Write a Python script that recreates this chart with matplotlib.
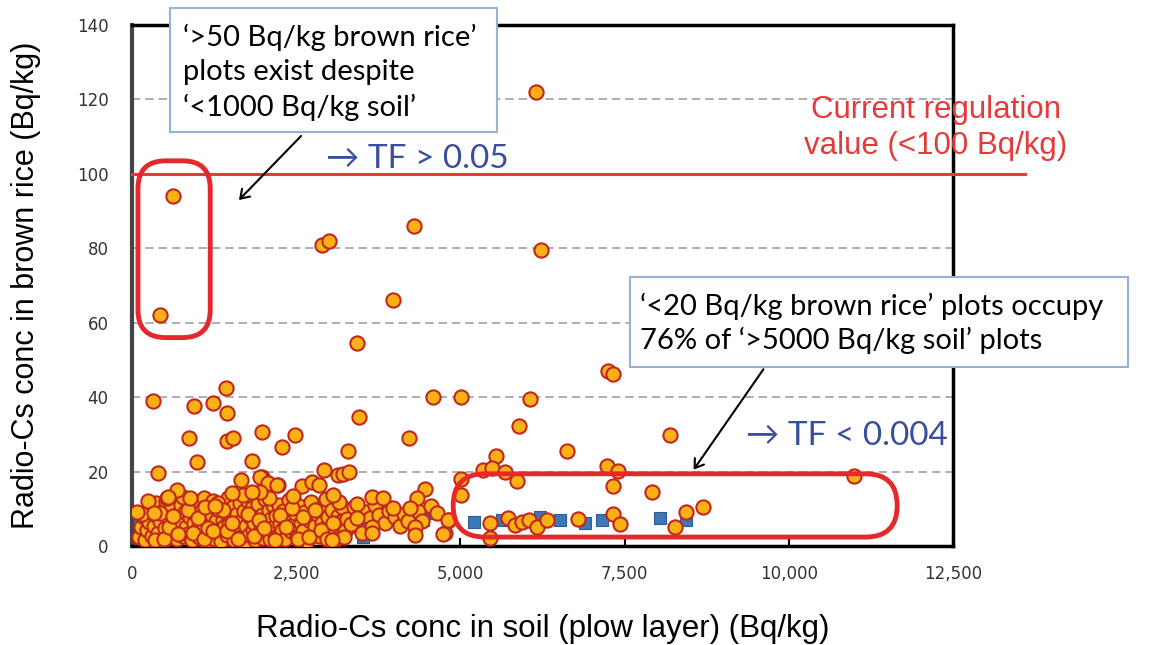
import numpy as np
import matplotlib
matplotlib.use('Agg')
import matplotlib.pyplot as plt
from matplotlib.patches import FancyBboxPatch, Rectangle, FancyArrowPatch

# scattered orange points (soil Bq/kg, brown rice Bq/kg)
orange_x = [6150, 620, 430, 2900, 3000, 4300, 6230, 3975, 3430, 3460, 4585, 5010, 6060, 5890,
            7250, 7330, 4220, 8190, 5545, 6625, 320, 945, 1235, 1430, 1445, 870, 1445, 1540,
            1980, 2480, 2285, 990, 1830, 395, 3290, 2925, 3140, 3215, 3300, 5345, 5480, 5680,
            5860, 5010, 5010, 7230, 7400, 7330, 7920, 8700, 8440, 8270, 4830, 4770, 5450, 5450,
            5730, 5830, 5940, 6050, 6170, 6320, 6790, 7330, 7430, 11000,
            1660, 1980, 2055, 2225, 2590, 2740, 2850, 3060, 2450, 1525, 533, 685, 883, 4460,
            4340, 3425, 3655, 3820, 3975, 4235, 3430, 3655, 4310, 3655, 4310, 4735, 4810, 3045,
            75, 1950, 2070, 2210, 548, 1950, 1830, 1110, 1265, 335]
orange_y = [122, 94, 62, 81, 82, 86, 79.6, 66, 54.6, 34.7, 40, 40, 39.6, 32.3,
            47, 46.3, 29, 29.8, 24.2, 25.5, 39, 37.6, 38.5, 42.5, 35.8, 29, 28.2, 29,
            30.6, 29.8, 26.6, 22.6, 22.8, 19.6, 25.5, 20.4, 19, 19.4, 19.9, 20.4, 21, 20,
            17.5, 18, 13.7, 21.5, 20.2, 16, 14.5, 10.5, 9.1, 5.1, 7, 3.5, 6.2, 2.2,
            7.5, 5.6, 6.5, 7, 5.1, 7, 7.2, 8.6, 5.9, 18.8,
            17.7, 18.5, 16.6, 16.4, 16.1, 17.2, 16.4, 13.7, 13.4, 14.2, 12.9, 15, 12.9, 15.3,
            12.9, 11.3, 13.2, 12.9, 10.2, 10.2, 7.5, 5.1, 5.1, 3.5, 3, 3.2, 7, 1.6,
            9.1, 18.5, 17, 16.4, 13.2, 14.5, 14.5, 10.5, 10.8, 8.9]

# dense cluster at low soil / low rice values
dense_x = [110, 140, 180, 200, 230, 260, 280, 300, 330, 360, 370, 400, 430, 450, 470, 500, 520, 540,
           570, 590, 610, 640, 660, 680, 700, 720, 740, 760, 780, 800,
           820, 840, 860, 880, 900, 920, 940, 960, 980, 1000, 1020, 1040, 1060, 1080, 1100, 1120,
           1140, 1160, 1180, 1200, 1220, 1240, 1260, 1280, 1300, 1320, 1340, 1360, 1380, 1400,
           1420, 1440, 1460, 1480, 1500,
           1520, 1540, 1560, 1580, 1600, 1620, 1640, 1660, 1680, 1700, 1720, 1740, 1760, 1780,
           1800, 1820, 1840, 1860, 1880, 1900, 1920, 1940, 1960, 1980, 2000, 2020, 2040, 2060,
           2080, 2100, 2120, 2140, 2160, 2180, 2200, 2220, 2240, 2260, 2280,
           2300, 2330, 2360, 2390, 2420, 2450, 2480, 2510, 2540, 2570, 2600, 2630, 2660, 2690,
           2720, 2750, 2780, 2810, 2840, 2870, 2900, 2930, 2960, 2990, 3020, 3050, 3080, 3110,
           3140, 3170, 3200, 3240, 3280,
           150, 250, 350, 420, 490, 560, 630, 700, 770, 850, 930, 1010, 1090, 1150, 1230, 1310,
           1390, 1450, 1530, 1610, 1690, 1770, 1850, 1930, 2010, 2090, 2170, 2250, 2340, 2430,
           2520, 2610, 2700, 2790, 2880, 2970, 3060, 3150, 3230,
           3330, 3380, 3500, 3560, 3620, 3700, 3760, 3850, 3920, 4000, 4080, 4140, 4200, 4360,
           4420, 4550, 4650]
dense_y = [2.5, 5, 7.8, 1.5, 4.2, 6.5, 10.8, 2.8, 5.5, 8.2, 11.5, 3.5, 6.8, 1.2, 9.5, 4.8, 12, 2.2,
           7.2, 10, 3.8, 5.9, 13.5, 1.8, 8.6, 4.4, 11, 6.3, 2.6, 9.2,
           5.2, 12.4, 3.1, 7.7, 10.2, 1.6, 6.1, 8.9, 4.0, 11.8, 2.4, 6.9, 9.7, 4.6, 13.0, 1.4,
           7.4, 10.6, 3.3, 5.7, 8.3, 12.2, 2.0, 6.6, 9.9, 4.2, 11.2, 1.3, 7.1, 5.0,
           9.1, 2.9, 12.8, 6.0, 8.0,
           3.6, 10.4, 1.7, 6.4, 8.7, 4.7, 11.6, 2.3, 7.0, 9.4, 0.9, 5.3, 12.0, 3.0,
           7.9, 10.1, 4.4, 6.2, 1.5, 9.0, 11.4, 3.4, 5.8, 8.4, 2.1, 12.6, 6.7, 4.0,
           9.6, 1.8, 7.3, 10.9, 3.7, 5.5, 8.1, 2.6, 11.0, 6.0, 4.3,
           9.3, 1.9, 7.6, 12.3, 3.9, 5.6, 8.8, 2.5, 10.7, 6.3, 4.1, 9.2, 1.4, 7.0,
           11.9, 3.2, 5.4, 8.5, 2.7, 10.3, 6.1, 4.5, 12.5, 7.8, 3.1, 9.8, 5.2, 1.9,
           8.0, 6.5, 10.6, 4.0, 7.2,
           8.6, 12.2, 1.6, 9.0, 2.0, 5.1, 8.0, 3.2, 13.2, 9.6, 3.6, 7.6, 1.9, 4.9, 3.9, 11.5,
           9.8, 4.0, 6.2, 1.9, 13.8, 8.6, 2.8, 6.9, 4.8, 13.0, 1.5, 8.2, 5.0, 10.1,
           1.8, 7.8, 2.4, 9.7, 4.2, 1.9, 6.3, 11.8, 2.3,
           6.0, 10.5, 3.6, 9.1, 7.6, 11.0, 8.4, 6.2, 9.3, 7.7, 5.4, 8.6, 6.8, 9.5,
           6.6, 10.8, 9.0]

# blue squares
blue_x = [40, 90, 20, 60, 150, 250, 600, 1200, 1800, 2070, 2600, 3000, 3320, 3520, 3350, 3500,
          3655, 4360, 4510, 4430, 5200, 5640, 6210, 6520, 6900, 7160, 8040, 8440]
blue_y = [6.2, 2.4, 1.6, 4, 8, 3, 2, 4, 3, 5, 2, 6, 8.9, 2.4, 5.1, 7, 7.8, 7.8, 8.9, 7,
          6.5, 7, 7.8, 7, 6.2, 7, 7.5, 7]

xticks = [0, 2500, 5000, 7500, 10000, 12500]
xticklabels = ['0', '2,500', '5,000', '7,500', '10,000', '12,500']
yticks = [0, 20, 40, 60, 80, 100, 120, 140]

W, H = 1151, 645
fig = plt.figure(figsize=(W / 100, H / 100), dpi=100)
ax = fig.add_axes([132 / W, 1 - 546 / H, (953 - 132) / W, (546 - 25) / H])
ax.set_xlim(0, 12500)
ax.set_ylim(0, 140)

for y in yticks[1:-1]:
    ax.axhline(y, color='#a0a0a0', lw=1.2, ls=(0, (5, 3)), zorder=0)

ax.scatter(blue_x, blue_y, marker='s', s=85, c='#3f76b8', edgecolors='#2b5d96', linewidths=0.8, zorder=2)
ax.scatter(dense_x, dense_y, s=105, c='#fbb116', edgecolors='#c0271d', linewidths=1.5, zorder=3)
ax.scatter(orange_x, orange_y, s=105, c='#fbb116', edgecolors='#c0271d', linewidths=1.5, zorder=3)

# regulation line, runs past the right spine
ax.plot([0, 13600], [100, 100], color='#e53a3a', lw=2.2, clip_on=False, zorder=4)

ax.set_xticks(xticks)
ax.set_xticklabels(xticklabels)
ax.set_yticks(yticks)
ax.tick_params(axis='both', direction='in', length=6, width=1.5, labelsize=12,
               labelcolor='#333333', pad=14)
ax.tick_params(axis='y', length=0, pad=17)
for lab in ax.get_xticklabels() + ax.get_yticklabels():
    lab.set_family('Liberation Sans Narrow')
for s in ax.spines.values():
    s.set_linewidth(2.5)
    s.set_color('black')
ax.spines['left'].set_color('#444444')
ax.spines['left'].set_linewidth(3)

ax.set_xlabel('Radio-Cs conc in soil (plow layer) (Bq/kg)', fontsize=22.5,
              family='Liberation Sans', labelpad=22)
ax.set_ylabel('Radio-Cs conc in brown rice (Bq/kg)', fontsize=22,
              family='Liberation Sans', labelpad=26)

# red rounded boxes
asp = (140 / 521) / (12500 / 821)
ax.add_patch(FancyBboxPatch((91, 56), 1100, 47.5, boxstyle='round,pad=0,rounding_size=420',
                            mutation_aspect=asp, fill=False, ec='#e4282b', lw=3.5, zorder=5))
ax.add_patch(FancyBboxPatch((4890, 2.4), 6760, 17.0, boxstyle='round,pad=0,rounding_size=480',
                            mutation_aspect=asp, fill=False, ec='#e4282b', lw=3.5, zorder=5))

ax.text(4340, 104, '\u2192 TF > 0.05', color='#3a4e9e', fontsize=24, family=['Lato', 'DejaVu Sans'],
        va='center', ha='center', zorder=6)
ax.text(10890, 29.5, '\u2192 TF < 0.004', color='#3a4e9e', fontsize=24, family=['Lato', 'DejaVu Sans'],
        va='center', ha='center', zorder=6)


def px(x, y):
    return (x / W, 1 - y / H)


fig.text(*px(936, 128), 'Current regulation\nvalue (<100 Bq/kg)', color='#e53a3a',
         fontsize=22.5, family='Liberation Sans', ha='center', va='center', linespacing=1.3)

# callout boxes
fig.add_artist(Rectangle(px(170, 132), 327 / W, 124 / H, transform=fig.transFigure,
                         fc='white', ec='#93b4d6', lw=1.5, zorder=10))
fig.text(*px(183, 72), '\u2018>50 Bq/kg brown rice\u2019\nplots exist despite\n\u2018<1000 Bq/kg soil\u2019',
         fontsize=21, family='Lato', ha='left', va='center', linespacing=1.38, zorder=11)
fig.add_artist(Rectangle(px(630, 367), 498 / W, 90 / H, transform=fig.transFigure,
                         fc='white', ec='#93b4d6', lw=1.5, zorder=10))
fig.text(*px(640, 323), '\u2018<20 Bq/kg brown rice\u2019 plots occupy\n76% of \u2018>5000 Bq/kg soil\u2019 plots',
         fontsize=21, family='Lato', ha='left', va='center', linespacing=1.3, zorder=11)

# arrows
fig.add_artist(FancyArrowPatch(px(303, 134), px(237, 202), transform=fig.transFigure,
                               arrowstyle='->,head_length=6,head_width=4', lw=1.5,
                               color='black', zorder=12))
fig.add_artist(FancyArrowPatch(px(765, 367), px(692, 472), transform=fig.transFigure,
                               arrowstyle='->,head_length=6,head_width=4', lw=1.5,
                               color='black', zorder=12))

fig.savefig('out.png', dpi=100)
